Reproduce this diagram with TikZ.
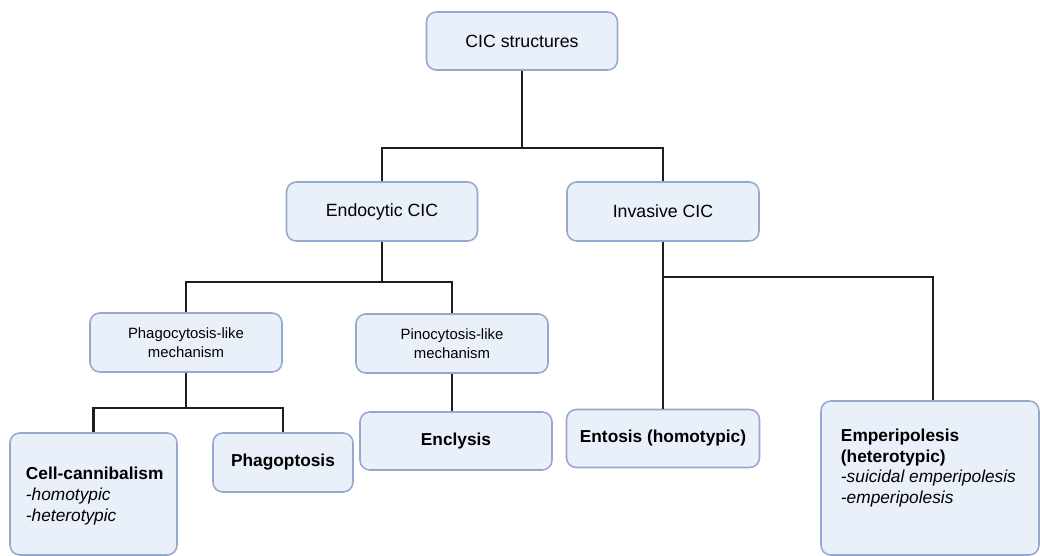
\documentclass[tikz,border=0pt]{standalone}
\usepackage{fontspec}
\setmainfont{Liberation Sans}
\usepackage{tikz}
\usetikzlibrary{positioning}

\definecolor{boxfill}{RGB}{234,240,250}
\definecolor{boxline}{RGB}{150,168,205}
\definecolor{linkline}{RGB}{30,30,30}

\begin{document}
\begin{tikzpicture}[%
    x=0.025cm, y=-0.025cm,
cicbox/.style={rectangle, rounded corners=7pt, align=center, draw=boxline, fill=boxfill, line width=1.1pt, inner sep=0pt},
bigtext/.style={font=\fontsize{12.6pt}{15pt}\selectfont},
smalltext/.style={font=\fontsize{10.6pt}{13.5pt}\selectfont},
boldtext/.style={font=\fontsize{12.3pt}{14.6pt}\selectfont\bfseries},
link/.style={draw=linkline, line width=1.5pt}
]
\useasboundingbox (0,0) rectangle (1040,556);

% Top
\node[cicbox, bigtext, minimum width=191*0.025cm, minimum height=58*0.025cm]      (cic)    at (522,41)  {CIC structures};

% Second level
\node[cicbox, bigtext, minimum width=191*0.025cm, minimum height=59*0.025cm]      (endo)   at (382,211.5) {Endocytic CIC};
\node[cicbox, bigtext, minimum width=192*0.025cm, minimum height=59*0.025cm]      (inva)   at (663,211.5)   {Invasive CIC};

% Mechanisms
\node[cicbox, smalltext, minimum width=192*0.025cm, minimum height=59*0.025cm]    (phago)  at (186,342.5)   {Phagocytosis-like\\mechanism};
\node[cicbox, smalltext, minimum width=192*0.025cm, minimum height=59*0.025cm]    (pino)   at (452,343.5)   {Pinocytosis-like\\mechanism};

% Bottom nodes
\node[cicbox, minimum width=167*0.025cm, minimum height=122*0.025cm]              (canni)  at (93.5,494) {};
\node[boldtext, align=left, anchor=west]                                          (cannitext) at (21,496) {Cell-cannibalism\\\normalfont\itshape -homotypic\\\normalfont\itshape -heterotypic};
\node[cicbox, boldtext, minimum width=140*0.025cm, minimum height=59*0.025cm]     (ptosis) at (283,462.5) {Phagoptosis};
\node[cicbox, boldtext, minimum width=192*0.025cm, minimum height=58*0.025cm]     (enclysis) at (456,441) {Enclysis};
\node[cicbox, boldtext, minimum width=193*0.025cm, minimum height=58*0.025cm]     (entosis) at (663,438.5) {Entosis (homotypic)};
\node[cicbox, minimum width=218*0.025cm, minimum height=154*0.025cm]              (emperi) at (930,478) {};
\node[boldtext, align=left, anchor=west]                                          (emperitext) at (836,468) {Emperipolesis\\(heterotypic)\\\normalfont\itshape -suicidal emperipolesis\\\normalfont\itshape -emperipolesis};

% Junctions
\coordinate (jtop)   at (522,148);
\coordinate (jendo)  at (382,282);
\coordinate (jphago) at (186,408);
\coordinate (jinva)  at (663,277);

% Lines
\draw[link] (cic.south) -- (jtop);
\draw[link] (endo.north) |- (jtop) -| (inva.north);
\draw[link] (endo.south) -- (jendo);
\draw[link] (phago.north) |- (jendo) -| (pino.north);
\draw[link] (phago.south) -- (jphago);
\draw[link] (canni.north) |- (jphago) -| (ptosis.north);
\draw[link] (pino.south) -- (enclysis.north -| pino.south);
\draw[link] (inva.south) -- (entosis.north);
\draw[link] (jinva) -| ([xshift=3*0.025cm]emperi.north);

\end{tikzpicture}
\end{document}
